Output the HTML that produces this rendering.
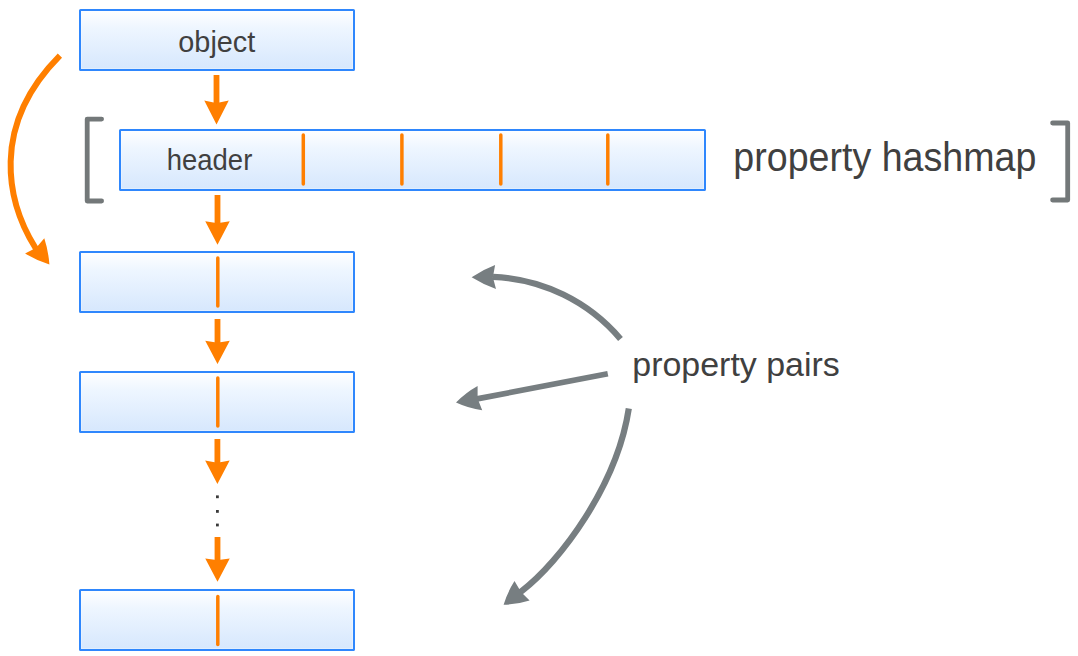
<!DOCTYPE html>
<html>
<head>
<meta charset="utf-8">
<style>
html,body{margin:0;padding:0;background:#fff;width:1078px;height:656px;overflow:hidden;}
svg{position:absolute;left:0;top:0;display:block;}
text{font-family:"Liberation Sans",sans-serif;fill:#404040;}
</style>
</head>
<body>
<svg width="1078" height="656" viewBox="0 0 1078 656">
<defs>
<linearGradient id="g" x1="0" y1="0" x2="0" y2="1">
<stop offset="0" stop-color="#ffffff"/>
<stop offset="0.3" stop-color="#eef6ff"/>
<stop offset="1" stop-color="#d6e7fd"/>
</linearGradient>
</defs>

<!-- boxes -->
<g stroke="#2f87fd" stroke-width="2" fill="url(#g)">
<rect x="80" y="10" width="274" height="60" rx="0.6"/>
<rect x="120" y="130" width="585" height="60" rx="0.6"/>
<rect x="80" y="252" width="274" height="60" rx="0.6"/>
<rect x="80" y="372" width="274" height="60" rx="0.6"/>
<rect x="80" y="590" width="274" height="60" rx="0.6"/>
</g>
<g stroke="#ffffff" stroke-opacity="0.3" stroke-width="1" fill="none">
<rect x="81.5" y="11.5" width="271" height="57"/>
<rect x="121.5" y="131.5" width="582" height="57"/>
<rect x="81.5" y="253.5" width="271" height="57"/>
<rect x="81.5" y="373.5" width="271" height="57"/>
<rect x="81.5" y="591.5" width="271" height="57"/>
</g>

<!-- dividers -->
<g stroke="#ff7f00" stroke-width="3.5" stroke-linecap="round">
<line x1="303.3" y1="135" x2="303.3" y2="184"/>
<line x1="401.9" y1="135" x2="401.9" y2="184"/>
<line x1="500.8" y1="135" x2="500.8" y2="184"/>
<line x1="607.8" y1="135" x2="607.8" y2="184"/>
<line x1="217.8" y1="258" x2="217.8" y2="306"/>
<line x1="217.8" y1="378" x2="217.8" y2="426"/>
<line x1="217.8" y1="596.5" x2="217.8" y2="644.5"/>
</g>

<!-- straight orange arrows -->
<g fill="#ff7f00">
<path d="M213.60 75.00 L219.40 75.00 L219.40 102.43 L228.75 100.60 L216.50 124.40 L204.25 100.60 L213.60 102.43Z"/>
<path d="M214.60 195.00 L220.40 195.00 L220.40 222.83 L229.75 221.30 L217.50 244.80 L205.25 221.30 L214.60 222.83Z"/>
<path d="M214.60 319.10 L220.40 319.10 L220.40 342.23 L229.75 340.70 L217.50 364.00 L205.25 340.70 L214.60 342.23Z"/>
<path d="M214.50 439.10 L220.30 439.10 L220.30 462.28 L229.65 460.60 L217.40 484.00 L205.15 460.60 L214.50 462.28Z"/>
<path d="M214.60 537.10 L220.40 537.10 L220.40 559.85 L229.75 558.40 L217.50 581.70 L205.25 558.40 L214.60 559.85Z"/>
</g>

<!-- dots -->
<g fill="#3a3a3a">
<rect x="216" y="495.4" width="2.8" height="2.8"/>
<rect x="216" y="510" width="2.8" height="2.8"/>
<rect x="216" y="523.6" width="2.8" height="2.8"/>
</g>

<!-- brackets -->
<g stroke="#737879" stroke-width="4.8" fill="none" stroke-linecap="round" stroke-linejoin="round">
<path d="M101.6 119.1 H87.2 V201 H101.6"/>
<path d="M1052.6 123 H1067.7 V200 H1052.6"/>
</g>

<!-- curved orange arrow -->
<path d="M59.9 55.7 C-10.49 126.43 7.1 202.61 35.5 248 L38.2 252.3" stroke="#ff7f00" stroke-width="6" fill="none"/>
<path d="M49.4 264.4 Q48.4 251.0 44.3 238.3 L36.2 247.8 L25.1 253.6 Q36.6 260.5 49.4 264.4Z" fill="#ff7f00"/>

<!-- gray arrows -->
<g stroke="#777e81" stroke-width="6.2" fill="none">
<path d="M620.5 338.9 A176.5 176.5 0 0 0 493 276.8"/>
<path d="M607.8 373.8 L477 398.9" stroke-width="5.7"/>
<path d="M628.8 408.5 C617.2 485.0 560.4 561.5 521.5 591.2 L518.3 593.6"/>
</g>
<g fill="#777e81">
<path d="M471.6 277.3 Q482.6 269.7 495.1 265.0 L492.9 277.3 L496.0 288.9 Q483.1 284.5 471.6 277.3Z"/>
<path d="M456.0 402.5 Q465.6 392.7 477.6 386.0 L477.6 398.6 L482.2 410.3 Q468.5 408.3 456.0 402.5Z"/>
<path d="M503.6 604.8 Q507.4 592.2 514.5 581.1 L521.0 592.0 L529.6 600.4 Q516.9 604.4 503.6 604.8Z"/>
</g>

<!-- text -->
<g>
<text x="178.3" y="51.8" font-size="29" textLength="77" lengthAdjust="spacingAndGlyphs">object</text>
<text x="166.8" y="170.4" font-size="29" textLength="85.5" lengthAdjust="spacingAndGlyphs">header</text>
<text x="733.3" y="170.5" font-size="40" textLength="303" lengthAdjust="spacingAndGlyphs">property hashmap</text>
<text x="632.3" y="375.9" font-size="34" textLength="207.5" lengthAdjust="spacingAndGlyphs">property pairs</text>
</g>
</svg>
</body>
</html>
